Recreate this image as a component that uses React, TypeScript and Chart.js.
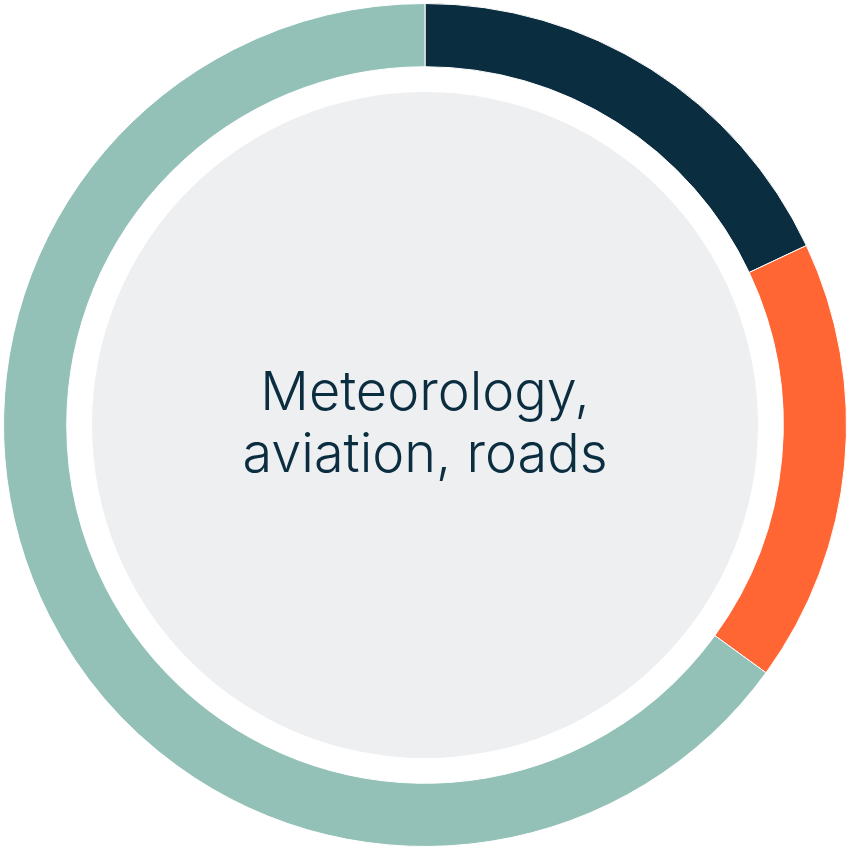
import React, { useEffect, useRef } from "react";
import { Chart, registerables } from "chart.js";

Chart.register(...registerables);

const categories = ["Segment A", "Segment B", "Segment C"];
const values = [18, 17, 65];
const colors = ["#0b2d40", "#ff6633", "#93c1b8"];
const centerLines = ["Meteorology,", "aviation, roads"];

const centerPlugin = {
  id: "centerPlugin",
  beforeDatasetsDraw(chart: any) {
    const meta = chart.getDatasetMeta(0);
    const arc = meta.data[0];
    if (!arc) return;
    const { x, y, outerRadius } = arc.getProps(["x", "y", "outerRadius"], true);
    const ctx = chart.ctx;
    ctx.save();
    ctx.fillStyle = "#eeeff1";
    ctx.beginPath();
    ctx.arc(x, y, outerRadius * 0.79, 0, Math.PI * 2);
    ctx.fill();
    ctx.fillStyle = "#0b2d40";
    ctx.font = "300 54px Inter";
    ctx.textAlign = "center";
    ctx.textBaseline = "alphabetic";
    ctx.fillText(centerLines[0], x, y - 15);
    ctx.fillText(centerLines[1], x, y + 47);
    ctx.restore();
  },
};

export default function App() {
  const ref = useRef<HTMLCanvasElement | null>(null);
  useEffect(() => {
    document.body.style.margin = "0";
    const chart = new Chart(ref.current!, {
      type: "doughnut",
      data: {
        labels: categories,
        datasets: [
          {
            data: values,
            backgroundColor: colors,
            borderColor: "#ffffff",
            borderWidth: 1,
            hoverOffset: 0,
          },
        ],
      },
      options: {
        responsive: false,
        animation: false,
        cutout: "85%",
        layout: { padding: 3 },
        plugins: {
          legend: { display: false },
          tooltip: { enabled: false },
        },
      },
      plugins: [centerPlugin],
    });
    return () => chart.destroy();
  }, []);
  return (
    <div style={{ width: 850, height: 850 }}>
      <canvas ref={ref} width={850} height={850} style={{ display: "block" }} />
    </div>
  );
}
